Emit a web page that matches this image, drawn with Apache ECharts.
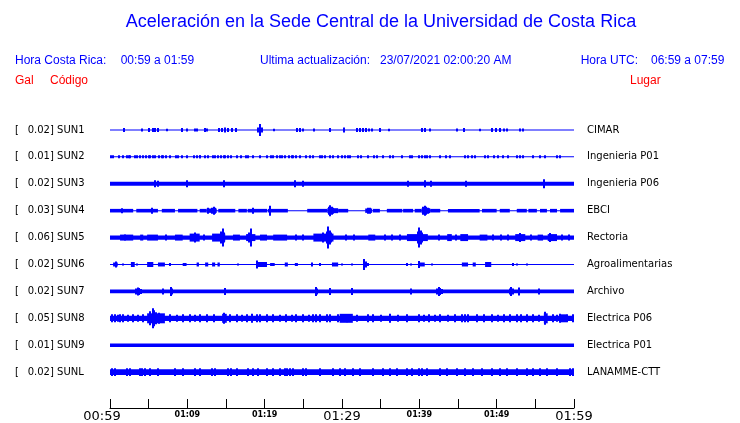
<!DOCTYPE html>
<html>
<head>
<meta charset="utf-8">
<script src="https://cdn.jsdelivr.net/npm/echarts@6/dist/echarts.min.js"></script>
<style>
html,body{margin:0;padding:0;background:#fff;}
#main{width:740px;height:423px;}
</style>
</head>
<body>
<div id="main"></div>
<script>
// ---- Data (time in minutes after 00:59, amplitudes in trace units) ----
const tickLabels = ['00:59','','01:09','','01:19','','01:29','','01:39','','01:49','','01:59'];
const majorTicks = ['00:59','01:29','01:59'];
const codes  = ['SUN1','SUN2','SUN3','SUN4','SUN5','SUN6','SUN7','SUN8','SUN9','SUNL'];
const scales = ['0.02','0.01','0.02','0.03','0.06','0.02','0.02','0.05','0.01','0.02'];
const places = ['CIMAR','Ingenieria P01','Ingenieria P06','EBCI','Rectoria','Agroalimentarias','Archivo','Electrica P06','Electrica P01','LANAMME-CTT'];
const baseAmp = [0.5,0.5,2,0.5,2.2,0.5,1.8,2.6,1.8,2.8];

// bands: [tStart, tEnd, amplitude]
const bandsSUN1 = [];
const bandsSUN2 = [];
const bandsSUN3 = [];
const bandsSUN4 = [[0,3.0,1.8],[3.4,5.4,1.8],[5.4,6.2,1.8],[6.7,8.4,1.8],[8.8,11.3,1.8],[11.6,12.5,1.8],[12.5,13.8,2.2],[14.0,16.2,1.8],[16.6,17.7,1.8],[17.8,20.3,1.8],[20.4,23.0,1.8],[25.5,28.1,1.8],[28.1,29.5,2.5],[29.5,30.8,1.8],[33.0,33.9,2.2],[34.0,34.9,1.8],[35.8,37.8,1.8],[37.9,39.2,1.8],[39.4,40.3,1.8],[40.3,41.4,2.5],[41.4,42.7,1.8],[43.7,47.8,1.8],[48.1,50.0,1.8],[50.4,51.7,1.8],[52.6,53.9,1.8],[54.1,55.2,1.8],[55.6,56.5,1.8],[56.9,57.8,1.8],[58.2,60,1.8]];
const bandsSUN5 = [[1.3,3.0,3],[3.9,4.3,3],[4.8,6.2,3],[8.4,9.4,3],[10.3,11.6,4],[13.2,14.9,4],[15.9,16.8,3],[17.6,18.8,3.5],[19.4,20.3,3],[21.1,22.9,3],[26.3,28.9,4],[33.4,34.3,3],[38.4,41.1,3.5],[43.6,44.2,3.5],[45.3,46.3,3.5],[47.8,48.8,3],[52.4,53.7,3.5],[55.3,56.0,3],[56.6,57.8,3.5]];
const bandsSUN6 = [[0.4,1.0,2],[2.7,3.2,2.5],[4.8,5.6,2.5],[6.2,7.1,2],[9.4,9.9,1.5],[11.2,11.5,2],[12.3,12.7,2],[13.2,13.6,2],[13.9,14.2,2],[19.0,20.3,2.5],[20.7,21.3,1.5],[22.6,23.0,2],[23.9,24.3,1.5],[26.1,26.3,2],[27.2,27.4,1.5],[28.7,29.5,2],[40.0,40.7,2],[45.5,46.3,2],[46.9,47.3,2],[48.5,49.3,2.5]];
const bandsSUN7 = [];
const bandsSUN8 = [[4.8,7.1,5],[14.5,15.1,4.5],[29.7,31.4,4.5],[56.1,56.6,5],[58.2,59.0,4]];
const bandsSUN9 = [];
const bandsSUNL = [];

// spikes: [t, amplitude]
const spikesSUN1 = [[1.8,2],[4.1,1.5],[5.0,2],[5.6,2],[5.8,2],[6.2,2],[7.4,1.2],[9.3,2],[10.0,1.5],[11.0,1.5],[11.3,1.5],[12.3,2],[12.5,1.5],[14.1,2],[14.5,2],[14.9,2.5],[15.3,2],[15.8,2],[16.3,2],[19.2,2.5],[19.4,6],[19.6,2.5],[21.2,1.2],[24.2,2],[24.6,2],[25.0,1.5],[26.4,1.5],[28.4,2],[30.3,2.5],[31.9,2],[32.3,2],[32.7,2],[33.1,2],[33.5,1.5],[33.9,1.5],[34.9,2],[36.1,1.2],[40.3,2],[40.7,2],[41.4,1.5],[44.9,1.5],[45.8,2],[47.8,1.2],[49.4,2],[49.9,2],[50.4,2],[50.9,1.5],[51.3,1.5],[53.0,1.5],[53.4,1.5]];
const spikesSUN2 = [[0.1,1.5],[0.4,1.5],[1.2,1.5],[1.7,1.5],[2.2,1.5],[2.4,1.5],[2.6,1.5],[3.2,1.5],[3.5,1.5],[3.9,1.5],[4.3,1.5],[4.7,1.5],[5.0,1.5],[5.2,1.5],[5.6,1.5],[5.8,1.5],[6.3,1.5],[6.7,1.5],[6.9,1.5],[7.3,1.5],[7.8,1.5],[8.5,1.5],[8.8,1.5],[9.3,1.5],[10.0,1.5],[10.8,1.5],[11.2,1.5],[11.6,1.5],[11.7,1.5],[12.3,1.5],[12.7,1.5],[13.3,1.5],[13.6,1.5],[14.0,1.5],[14.3,1.5],[14.7,1.5],[14.9,1.5],[15.3,1.5],[15.7,1.5],[16.4,1.5],[17.0,1.5],[17.6,1.5],[17.9,1.5],[18.5,1.5],[19.4,1.5],[20.3,1.5],[20.8,1.5],[21.1,1.5],[21.6,1.5],[22.0,1.5],[22.3,1.5],[22.6,1.5],[23.1,1.5],[23.5,1.5],[23.7,1.5],[24.1,1.5],[24.6,1.5],[25.4,1.5],[25.9,1.5],[26.3,1.5],[27.2,1.5],[27.4,1.5],[27.8,1.5],[28.4,1.5],[28.9,1.5],[29.5,1.5],[30.0,1.5],[30.4,1.5],[30.8,1.5],[31.0,1.5],[32.1,1.5],[32.5,1.5],[33.4,1.5],[34.1,1.5],[34.5,1.5],[35.3,1.5],[36.2,1.5],[36.6,1.5],[37.7,1.5],[38.8,1.5],[39.0,1.5],[39.9,1.5],[40.3,1.5],[40.7,1.5],[41.0,1.5],[41.4,1.5],[42.7,1.5],[43.5,1.5],[44.0,1.5],[45.9,1.5],[46.3,1.5],[46.8,1.5],[47.2,1.5],[48.5,1.5],[48.9,1.5],[49.6,1.5],[50.2,1.5],[50.8,1.5],[51.5,1.5],[52.6,1.5],[53.0,1.5],[53.4,1.5],[54.7,1.5],[55.6,1.5],[56.2,1.5],[57.8,1.5],[58.2,1.5]];
const spikesSUN3 = [[5.8,3.5],[6.2,3],[9.9,3.5],[14.7,3.5],[23.9,3.5],[25.0,3],[38.5,3],[40.7,3.5],[41.5,3],[46.0,3],[56.1,4.5]];
const spikesSUN4 = [[1.5,2.5],[5.4,3],[12.7,3],[13.2,3],[13.4,4],[13.6,3],[18.5,3],[20.7,5],[28.3,4],[28.5,5.5],[28.7,4],[28.9,3],[33.3,3],[33.6,3],[40.5,4],[40.7,5],[40.9,4],[41.1,3]];
const spikesSUN5 = [[11.0,5],[14.4,6],[14.6,9],[14.8,5],[18.0,5],[18.2,9],[27.6,5],[28.0,6],[28.2,11],[28.4,7],[28.6,5],[39.8,6],[40.0,10],[40.2,7],[40.4,5],[53.0,4.5],[56.9,4.5],[2.0,3],[7.2,3],[12.2,3],[24.0,3],[25.0,3],[30.5,3],[31.5,3],[35.5,3],[36.5,3],[37.5,3],[42.5,3],[44.8,3],[49.5,3],[50.5,3],[51.5,3],[54.5,3],[58.5,3],[59.3,3]];
const spikesSUN6 = [[0.8,3],[1.7,1],[3.5,1],[7.8,1.5],[16.6,1],[19.0,4],[30.0,1],[31.3,1],[32.9,5.5],[33.1,3],[33.4,1.5],[38.4,1.5],[38.9,1],[40.0,3.5],[41.6,1],[52.1,1.5],[52.6,1],[53.9,1]];
const spikesSUN7 = [[3.4,3],[3.6,4],[3.8,3.5],[4.0,2.5],[6.9,3],[7.9,4.5],[8.0,3],[14.9,3.5],[26.6,4.5],[26.8,3],[28.4,3.5],[31.3,3.5],[38.9,3],[42.3,3],[42.5,4.5],[42.7,3.5],[42.9,2.5],[51.7,3],[51.9,4.5],[52.1,3],[52.9,4],[55.5,3]];
const spikesSUN8 = [[5.2,7],[5.5,10],[5.7,8],[6.0,6],[6.3,5.5],[14.8,5.5],[56.3,6.5],[0.2,4],[0.6,4],[1.0,3.5],[1.3,4],[1.7,4],[2.3,3.5],[3.0,4],[3.6,3.5],[4.3,4],[7.8,4],[8.6,3.5],[9.5,4],[10.3,4],[11.0,3.5],[11.6,4],[12.5,4],[13.4,4],[15.5,4],[16.4,4],[17.1,3.5],[17.7,4],[18.3,4.5],[19.0,4],[19.4,4],[20.3,4],[21.1,4],[22.0,3.5],[22.8,4],[23.5,3.5],[24.1,4],[25.0,4],[25.7,3.5],[26.3,4],[26.7,4],[27.2,4],[28.0,4],[28.4,4],[29.5,4],[30.6,4],[32.0,3.5],[33.4,4],[34.0,4],[35.0,3.5],[36.2,4.5],[37.3,3.5],[38.4,4],[39.9,4],[40.6,3.5],[41.2,4],[42.0,3.5],[42.7,4],[43.7,3.5],[44.6,4],[45.5,4],[45.9,4],[46.3,4],[47.4,4],[48.3,4],[49.4,4],[50.2,3.5],[50.9,4],[51.7,4],[52.6,4],[53.2,4],[53.9,4],[54.7,4],[55.5,3.5],[57.3,4],[57.8,3.5],[58.2,4.5],[59.1,4],[59.9,4]];
const spikesSUN9 = [];
const spikesSUNL = [[0.2,4],[0.6,4],[2.2,4],[2.6,4],[3.9,4],[4.2,4],[4.5,4],[5.2,4],[6.2,4],[8.4,4],[9.5,4],[11.0,4],[11.6,4],[13.2,4],[13.6,4],[15.3,4],[15.7,4],[16.4,4],[17.9,4],[18.5,4],[19.2,4],[20.3,4],[21.1,4],[22.0,4],[22.6,4],[22.9,4],[23.3,4],[23.7,4],[25.0,4],[25.4,4],[27.2,4],[28.9,4],[29.7,4],[30.4,4],[31.4,4],[32.3,4],[34.0,4],[35.3,4],[36.2,4],[37.1,4],[38.4,4],[39.1,4],[39.9,4],[40.3,4],[41.0,4],[42.7,4],[43.6,4],[44.9,4],[45.9,4],[47.0,4],[48.1,4],[49.4,4],[50.4,4],[51.3,4],[52.6,4],[53.9,4],[54.7,4],[55.6,4],[56.5,4],[57.8,4],[59.5,4],[59.9,4]];

const bandsAll  = [bandsSUN1,bandsSUN2,bandsSUN3,bandsSUN4,bandsSUN5,bandsSUN6,bandsSUN7,bandsSUN8,bandsSUN9,bandsSUNL];
const spikesAll = [spikesSUN1,spikesSUN2,spikesSUN3,spikesSUN4,spikesSUN5,spikesSUN6,spikesSUN7,spikesSUN8,spikesSUN9,spikesSUNL];

// ---- Layout ----
const ROW = 27;
const rowCenter = i => ROW / 2 + ROW * i;
const TRACE = '#0000ff';
const BLUE = '#0000ff';
const RED = '#ff0000';

function makeRender(idx) {
  return function (params, api) {
    const t0 = api.value(0), t1 = api.value(1), a = api.value(2);
    const c = rowCenter(idx);
    const p0 = api.coord([t0, c - a]);
    const p1 = api.coord([t1, c + a]);
    let x = p0[0], w = p1[0] - p0[0];
    if (w < 2) { x = Math.round(x) - 1; w = 2; }
    const top = Math.min(p0[1], p1[1]);
    const h = Math.max(Math.abs(p1[1] - p0[1]), 1);
    return { type: 'rect', shape: { x: x, y: top, width: w, height: h }, style: { fill: TRACE } };
  };
}

const series = codes.map((code, i) => ({
  type: 'custom',
  name: code,
  renderItem: makeRender(i),
  encode: { x: [0, 1], y: 2 },
  silent: true,
  animation: false,
  data: [[0, 60, baseAmp[i]]].concat(bandsAll[i], spikesAll[i].map(s => [s[0], s[0], s[1]]))
}));

const chart = echarts.init(document.getElementById('main'), null, { renderer: 'canvas' });
chart.setOption({
  animation: false,
  backgroundColor: '#ffffff',
  grid: { left: 110, right: 166, top: 116.5, bottom: 14 },
  xAxis: {
    type: 'value', min: 0, max: 60, interval: 5, position: 'bottom',
    axisLine: { show: true, onZero: false, lineStyle: { color: '#000', width: 1 } },
    axisTick: { show: true, inside: true, length: 9, lineStyle: { color: '#000', width: 1 } },
    splitLine: { show: false },
    axisLabel: {
      margin: 1,
      showMinLabel: true, showMaxLabel: true,
      formatter: function (v) {
        const lab = tickLabels[Math.round(v / 5)] || '';
        if (!lab) return '';
        if (lab === majorTicks[0]) return '{f|' + lab + '}';
        return majorTicks.indexOf(lab) >= 0 ? '{b|' + lab + '}' : '{s|' + lab + '}';
      },
      rich: {
        b: { fontSize: 13, fontFamily: 'DejaVu Sans', color: '#000', lineHeight: 15 },
        f: { fontSize: 13, fontFamily: 'DejaVu Sans', color: '#000', lineHeight: 15, padding: [0, 16, 0, 0] },
        s: { fontSize: 8, fontWeight: 'bold', fontFamily: 'DejaVu Sans', color: '#000', lineHeight: 12 }
      }
    }
  },
  yAxis: { type: 'value', min: 0, max: 292.5, inverse: true, show: false },
  series: series
});

const graphics = [];
function txt(x, y, s, opts) {
  graphics.push({
    type: 'text', x: x, y: y, silent: true,
    style: Object.assign({ text: s, fill: '#000', font: '10px "DejaVu Sans"', textAlign: 'left', textVerticalAlign: 'middle' }, opts || {})
  });
}
txt(381, 22, 'Aceleración en la Sede Central de la Universidad de Costa Rica', { fill: BLUE, font: '18px "Liberation Sans"', textAlign: 'center' });
txt(15, 61, 'Hora Costa Rica:', { fill: BLUE, font: '12px "Liberation Sans"' });
txt(120.7, 61, '00:59 a 01:59', { fill: BLUE, font: '12px "Liberation Sans"' });
txt(260, 61, 'Ultima actualización:', { fill: BLUE, font: '12px "Liberation Sans"' });
txt(380, 61, '23/07/2021 02:00:20 AM', { fill: BLUE, font: '12px "Liberation Sans"' });
txt(580.7, 61, 'Hora UTC:', { fill: BLUE, font: '12px "Liberation Sans"' });
txt(651, 61, '06:59 a 07:59', { fill: BLUE, font: '12px "Liberation Sans"' });
txt(15, 81, 'Gal', { fill: RED, font: '12px "Liberation Sans"' });
txt(50, 81, 'Código', { fill: RED, font: '12px "Liberation Sans"' });
txt(630, 81, 'Lugar', { fill: RED, font: '12px "Liberation Sans"' });

codes.forEach((code, i) => {
  const py = chart.convertToPixel({ gridIndex: 0 }, [0, rowCenter(i)])[1];
  txt(15, py, '[');
  txt(27.7, py, scales[i] + '] ' + code);
  txt(587, py, places[i]);
});
chart.setOption({ graphic: graphics });
</script>
</body>
</html>
